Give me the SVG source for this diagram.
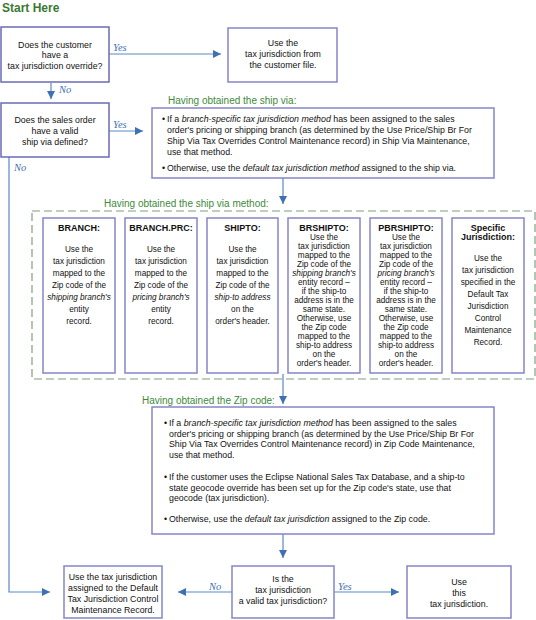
<svg xmlns="http://www.w3.org/2000/svg" width="536" height="620" viewBox="0 0 536 620">
<defs>
<marker id="ah" viewBox="0 0 8 8" refX="8" refY="4" markerWidth="8" markerHeight="8" markerUnits="userSpaceOnUse" orient="auto">
<path d="M0,0 L8,4 L0,8 z" fill="#3f70b2"/>
</marker>
<style>
.box{fill:#fff;stroke:#8585c8;stroke-width:1.5}
.dk{stroke:#6a6ab8}
.t{font-family:"Liberation Sans",Arial,sans-serif;font-size:8.8px;fill:#111}
.c{text-anchor:middle}
.s{font-family:"Liberation Sans",Arial,sans-serif;font-size:8.2px;fill:#111;text-anchor:middle}
.h{font-family:"Liberation Sans",Arial,sans-serif;font-size:9px;font-weight:bold;fill:#111;text-anchor:middle}
.i{font-style:italic}
.g{font-family:"Liberation Sans",Arial,sans-serif;font-size:10px;fill:#3d8a3a}
.lab{font-family:"Liberation Serif","Times New Roman",serif;font-style:italic;font-size:10.5px;fill:#3f70b2}
.ln{fill:none;stroke:#5a88c4;stroke-width:1.2}
</style>
</defs>

<text x="2" y="12" font-family="Liberation Sans,Arial,sans-serif" font-size="12" font-weight="bold" fill="#3a7a32">Start Here</text>

<g id="connectors">
<line class="ln" x1="96" y1="54" x2="221" y2="54" marker-end="url(#ah)"/>
<line class="ln" x1="51" y1="83" x2="51" y2="99" marker-end="url(#ah)"/>
<line class="ln" x1="97" y1="131" x2="143" y2="131" marker-end="url(#ah)"/>
<polyline class="ln" points="9,146 9,592 50,592" marker-end="url(#ah)"/>
<line class="ln" x1="283" y1="178" x2="283" y2="204" marker-end="url(#ah)"/>
<line class="ln" x1="283" y1="374" x2="283" y2="404" marker-end="url(#ah)"/>
<line class="ln" x1="283" y1="534" x2="283" y2="558" marker-end="url(#ah)"/>
<line class="ln" x1="234" y1="592" x2="178" y2="592" marker-end="url(#ah)"/>
<line class="ln" x1="326" y1="592" x2="399" y2="592" marker-end="url(#ah)"/>
<text class="lab" x="113" y="51">Yes</text>
<text class="lab" x="59" y="93">No</text>
<text class="lab" x="113" y="128">Yes</text>
<text class="lab" x="14" y="171">No</text>
<text class="lab" x="209" y="590">No</text>
<text class="lab" x="338" y="590">Yes</text>
</g>

<g id="q-override">
<rect class="box dk" x="1" y="27" width="108" height="55"/>
<text class="t c" x="55" y="47.5">Does the customer</text>
<text class="t c" x="55" y="58">have a</text>
<text class="t c" x="55" y="68.5">tax jurisdiction override?</text>
</g>

<g id="use-customer">
<rect class="box" x="228" y="28" width="109" height="54"/>
<text class="t c" x="283" y="46">Use the</text>
<text class="t c" x="283" y="57">tax jurisdiction from</text>
<text class="t c" x="283" y="67.5">the customer file.</text>
</g>

<g id="q-shipvia">
<rect class="box dk" x="1" y="103" width="108" height="54"/>
<text class="t c" x="55" y="123">Does the sales order</text>
<text class="t c" x="55" y="134">have a valid</text>
<text class="t c" x="55" y="144.5">ship via defined?</text>
</g>

<g id="shipvia">
<text class="g" x="168" y="104">Having obtained the ship via:</text>
<rect class="box" x="152" y="108" width="342" height="70"/>
<text class="t" x="162" y="122">•</text>
<text class="t" x="167" y="122">If a <tspan class="i">branch-specific tax jurisdiction method</tspan> has been assigned to the sales</text>
<text class="t" x="167" y="133">order's pricing or shipping branch (as determined by the Use Price/Ship Br For</text>
<text class="t" x="167" y="144">Ship Via Tax Overrides Control Maintenance record) in Ship Via Maintenance,</text>
<text class="t" x="167" y="155">use that method.</text>
<text class="t" x="162" y="171">•</text>
<text class="t" x="167" y="171">Otherwise, use the <tspan class="i">default tax jurisdiction method</tspan> assigned to the ship via.</text>
</g>

<g id="methods">
<text class="g" x="104" y="207">Having obtained the ship via method:</text>
<rect x="32" y="211" width="503" height="168" fill="none" stroke="#7fa07f" stroke-width="1.2" stroke-dasharray="8,4"/>
</g>

<g id="m-branch">
<rect class="box" x="43" y="218" width="72" height="155" stroke="#4a4a9a"/>
<text class="h" x="79" y="231">BRANCH:</text>
<text class="s" x="79" y="252">Use the</text>
<text class="s" x="79" y="264">tax jurisdiction</text>
<text class="s" x="79" y="276">mapped to the</text>
<text class="s" x="79" y="288">Zip code of the</text>
<text class="s i" x="79" y="300">shipping branch's</text>
<text class="s" x="79" y="312">entity</text>
<text class="s" x="79" y="324">record.</text>
</g>

<g id="m-branchprc">
<rect class="box" x="125" y="218" width="72" height="155"/>
<text class="h" x="161" y="231">BRANCH.PRC:</text>
<text class="s" x="161" y="252">Use the</text>
<text class="s" x="161" y="264">tax jurisdiction</text>
<text class="s" x="161" y="276">mapped to the</text>
<text class="s" x="161" y="288">Zip code of the</text>
<text class="s i" x="161" y="300">pricing branch's</text>
<text class="s" x="161" y="312">entity</text>
<text class="s" x="161" y="324">record.</text>
</g>

<g id="m-shipto">
<rect class="box" x="207" y="218" width="71" height="155"/>
<text class="h" x="242.5" y="231">SHIPTO:</text>
<text class="s" x="242.5" y="252">Use the</text>
<text class="s" x="242.5" y="264">tax jurisdiction</text>
<text class="s" x="242.5" y="276">mapped to the</text>
<text class="s" x="242.5" y="288">Zip code of the</text>
<text class="s i" x="242.5" y="300">ship-to address</text>
<text class="s" x="242.5" y="312">on the</text>
<text class="s" x="242.5" y="324">order's header.</text>
</g>

<g id="m-brshipto">
<rect class="box" x="288" y="218" width="72" height="155"/>
<text class="h" x="324" y="231">BRSHIPTO:</text>
<text class="s" x="324" y="240">Use the</text>
<text class="s" x="324" y="249">tax jurisdiction</text>
<text class="s" x="324" y="258">mapped to the</text>
<text class="s" x="324" y="267">Zip code of the</text>
<text class="s i" x="324" y="276">shipping branch's</text>
<text class="s" x="324" y="285">entity record –</text>
<text class="s" x="324" y="294">if the ship-to</text>
<text class="s" x="324" y="303">address is in the</text>
<text class="s" x="324" y="312">same state.</text>
<text class="s" x="324" y="321">Otherwise, use</text>
<text class="s" x="324" y="330">the Zip code</text>
<text class="s" x="324" y="339">mapped to the</text>
<text class="s" x="324" y="348">ship-to address</text>
<text class="s" x="324" y="357">on the</text>
<text class="s" x="324" y="365.5">order's header.</text>
</g>

<g id="m-pbrshipto">
<rect class="box" x="370" y="218" width="72" height="155"/>
<text class="h" x="406" y="231">PBRSHIPTO:</text>
<text class="s" x="406" y="240">Use the</text>
<text class="s" x="406" y="249">tax jurisdiction</text>
<text class="s" x="406" y="258">mapped to the</text>
<text class="s" x="406" y="267">Zip code of the</text>
<text class="s i" x="406" y="276">pricing branch's</text>
<text class="s" x="406" y="285">entity record –</text>
<text class="s" x="406" y="294">if the ship-to</text>
<text class="s" x="406" y="303">address is in the</text>
<text class="s" x="406" y="312">same state.</text>
<text class="s" x="406" y="321">Otherwise, use</text>
<text class="s" x="406" y="330">the Zip code</text>
<text class="s" x="406" y="339">mapped to the</text>
<text class="s" x="406" y="348">ship-to address</text>
<text class="s" x="406" y="357">on the</text>
<text class="s" x="406" y="365.5">order's header.</text>
</g>

<g id="m-specific">
<rect class="box" x="452" y="218" width="72" height="155"/>
<text class="h" x="488" y="231">Specific</text>
<text class="h" x="488" y="240">Jurisdiction:</text>
<text class="s" x="488" y="261">Use the</text>
<text class="s" x="488" y="273">tax jurisdiction</text>
<text class="s" x="488" y="285">specified in the</text>
<text class="s" x="488" y="297">Default Tax</text>
<text class="s" x="488" y="309">Jurisdiction</text>
<text class="s" x="488" y="321">Control</text>
<text class="s" x="488" y="333">Maintenance</text>
<text class="s" x="488" y="345">Record.</text>
</g>

<g id="zipcode">
<text class="g" x="142" y="404">Having obtained the Zip code:</text>
<rect class="box" x="152" y="407" width="342" height="127"/>
<text class="t" x="164" y="426">•</text>
<text class="t" x="169" y="426">If a <tspan class="i">branch-specific tax jurisdiction method</tspan> has been assigned to the sales</text>
<text class="t" x="169" y="436.5">order's pricing or shipping branch (as determined by the Use Price/Ship Br For</text>
<text class="t" x="169" y="447">Ship Via Tax Overrides Control Maintenance record) in Zip Code Maintenance,</text>
<text class="t" x="169" y="457.5">use that method.</text>
<text class="t" x="164" y="480">•</text>
<text class="t" x="169" y="480">If the customer uses the Eclipse National Sales Tax Database, and a ship-to</text>
<text class="t" x="169" y="490.5">state geocode override has been set up for the Zip code's state, use that</text>
<text class="t" x="169" y="501">geocode (tax jurisdiction).</text>
<text class="t" x="164" y="522">•</text>
<text class="t" x="169" y="522">Otherwise, use the <tspan class="i">default tax jurisdiction</tspan> assigned to the Zip code.</text>
</g>

<g id="use-default">
<rect class="box" x="64" y="566" width="98" height="52"/>
<text class="t c" x="113" y="580">Use the tax jurisdiction</text>
<text class="t c" x="113" y="591">assigned to the Default</text>
<text class="t c" x="113" y="602">Tax Jurisdiction Control</text>
<text class="t c" x="113" y="612.5">Maintenance Record.</text>
</g>

<g id="q-valid">
<rect class="box" x="232" y="566" width="102" height="52"/>
<text class="t c" x="283" y="582">Is the</text>
<text class="t c" x="283" y="593">tax jurisdiction</text>
<text class="t c" x="283" y="604">a valid tax jurisdiction?</text>
</g>

<g id="use-this">
<rect class="box" x="407" y="566" width="104" height="52"/>
<text class="t c" x="459" y="585">Use</text>
<text class="t c" x="459" y="596">this</text>
<text class="t c" x="459" y="606.5">tax jurisdiction.</text>
</g>
</svg>
